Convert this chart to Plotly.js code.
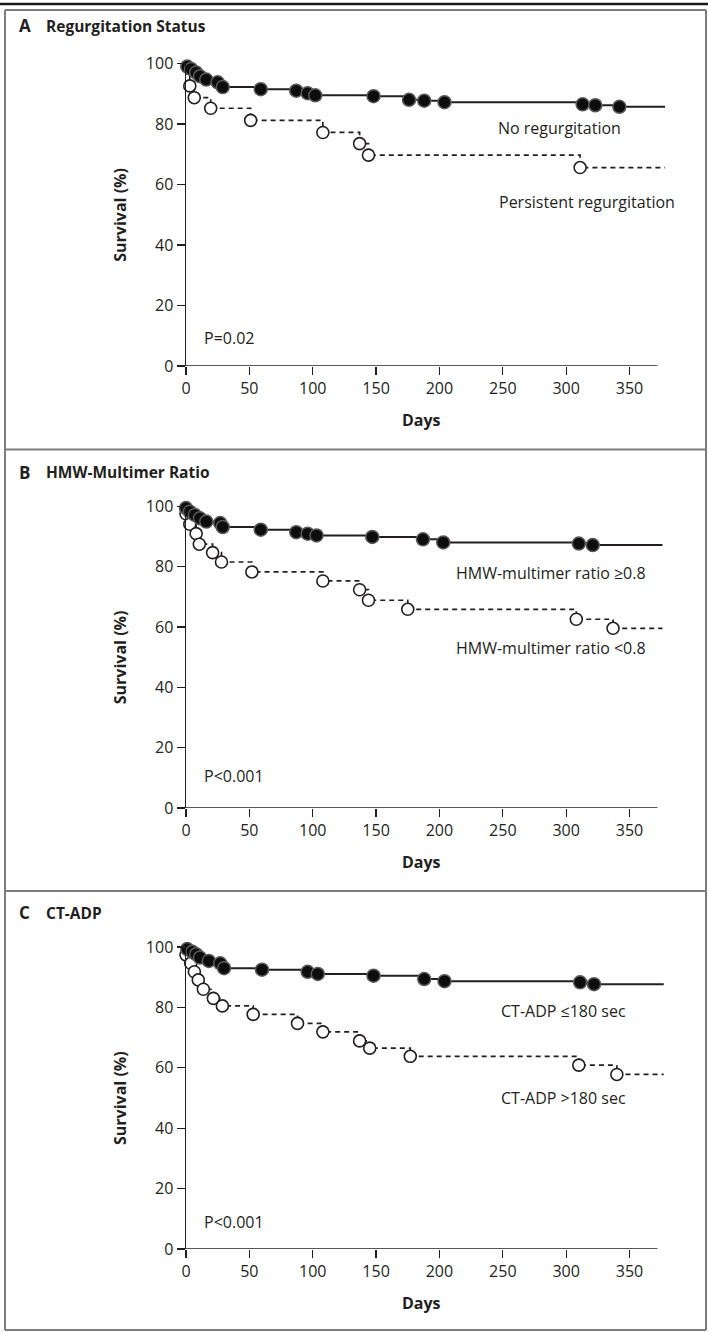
<!DOCTYPE html>
<html><head><meta charset="utf-8">
<script src="https://cdn.plot.ly/plotly-3.0.1.min.js"></script>
<style>html,body{margin:0;padding:0;background:#fff}#chart{width:708px;height:1332px}</style>
</head><body><div id="chart"></div>
<script>
// ---------- DATA (days of event, survival % after event) ----------
// Panel A: Regurgitation status
const daysA_none = [1, 4, 8, 11, 16, 25, 29, 59, 87, 96, 102, 148, 176, 188, 204, 313, 323, 342];
const survA_none = [99.0, 98.2, 97.0, 95.8, 94.7, 93.8, 92.2, 91.5, 91.0, 90.2, 89.5, 89.2, 88.0, 87.7, 87.2, 86.5, 86.2, 85.7];
const endA_none = 380;
const daysA_pers = [-1, 3, 6.5, 19.5, 51, 108, 137, 144, 311];
const survA_pers = [96.5, 92.6, 88.7, 85.2, 81.2, 77.2, 73.5, 69.7, 65.6];
const endA_pers = 380;

// Panel B: HMW-multimer ratio
const daysB_high = [0, 3, 7, 11, 16, 27, 29, 59, 87, 96, 103, 147, 187, 203, 310, 321];
const survB_high = [99.5, 98.3, 97.2, 96.1, 95.0, 94.5, 93.2, 92.3, 91.5, 91.0, 90.4, 89.9, 89.1, 88.1, 87.7, 87.2];
const endB_high = 376;
const daysB_low = [0, 3, 8, 10.5, 21, 28, 52, 108, 137, 144, 175, 308, 337];
const survB_low = [97.6, 94.1, 91.0, 87.5, 84.7, 81.6, 78.3, 75.3, 72.4, 68.9, 65.9, 62.6, 59.6];
const endB_low = 376;

// Panel C: CT-ADP
const daysC_short = [1, 5, 8, 11, 18, 27, 30, 60, 96, 104, 148, 188, 204, 311, 322];
const survC_short = [99.3, 98.4, 97.6, 96.5, 95.4, 94.6, 93.0, 92.5, 91.8, 91.1, 90.5, 89.4, 88.7, 88.3, 87.7];
const endC_short = 377;
const daysC_long = [0, 3.7, 6.6, 9.7, 13.7, 21.6, 28.7, 53, 88, 108, 137, 145, 177, 310, 340];
const survC_long = [97.4, 94.6, 91.8, 89.1, 86.0, 83.0, 80.5, 77.7, 74.7, 71.9, 68.9, 66.5, 63.8, 60.9, 57.8];
const endC_long = 377;

const xTicks = [0, 50, 100, 150, 200, 250, 300, 350];
const yTicks = [0, 20, 40, 60, 80, 100];
const panelLetters = ['A', 'B', 'C'];
const panelTitles = ['Regurgitation Status', 'HMW-Multimer Ratio', 'CT-ADP'];
const pValues = ['P=0.02', 'P<0.001', 'P<0.001'];
const labelsSolid = ['No regurgitation', 'HMW-multimer ratio \u22650.8', 'CT-ADP \u2264180 sec'];
const labelsDashed = ['Persistent regurgitation', 'HMW-multimer ratio <0.8', 'CT-ADP >180 sec'];

// ---------- LAYOUT HELPERS ----------
const W = 708, H = 1332;
const FONT = '"Open Sans", "Liberation Sans", sans-serif';
const INK = '#231f20';
const px = v => v / W;
const py = v => 1 - v / H;

const panels = [
  {solid: [daysA_none, survA_none, endA_none], dashed: [daysA_pers, survA_pers, endA_pers],
   y100: 63.5, y0: 366, title: 26, bottom: 449.5, pY: 9.2, lblS: 78.6, lblD: 54.3, lblSx: 294.6, lblDx: 316.3},
  {solid: [daysB_high, survB_high, endB_high], dashed: [daysB_low, survB_low, endB_low],
   y100: 506.5, y0: 808, title: 472, bottom: 891, pY: 10.5, lblS: 78.0, lblD: 53.0, lblSx: 287.8, lblDx: 287.8},
  {solid: [daysC_short, survC_short, endC_short], dashed: [daysC_long, survC_long, endC_long],
   y100: 947, y0: 1249, title: 913, bottom: 1330, pY: 9.0, lblS: 78.8, lblD: 49.9, lblSx: 297.8, lblDx: 297.8}
];

const traces = [];
const layout = {
  width: W, height: H, margin: {l: 0, r: 0, t: 0, b: 0},
  paper_bgcolor: '#fff', plot_bgcolor: 'rgba(0,0,0,0)',
  showlegend: false, font: {family: FONT, color: INK, size: 16},
  shapes: [], annotations: []
};

function lineXY(days, surv, end) {
  return {x: [0].concat(days, [end]), y: [100].concat(surv, [surv[surv.length - 1]])};
}

panels.forEach((p, i) => {
  const n = i === 0 ? '' : String(i + 1);
  const xa = 'x' + n, ya = 'y' + n;
  const [dD, sD, eD] = p.dashed;
  const [dS, sS, eS] = p.solid;
  const ld = lineXY(dD, sD, eD);
  traces.push({x: ld.x, y: ld.y, xaxis: xa, yaxis: ya, mode: 'lines', hoverinfo: 'skip',
    line: {shape: 'hv', color: INK, width: 1.7, dash: '5px,4px'}});
  traces.push({x: dD, y: sD, xaxis: xa, yaxis: ya, mode: 'markers', cliponaxis: false, hoverinfo: 'skip',
    marker: {symbol: 'circle', size: 12, color: '#ffffff', line: {color: INK, width: 1.6}}});
  const ls = lineXY(dS, sS, eS);
  traces.push({x: ls.x, y: ls.y, xaxis: xa, yaxis: ya, mode: 'lines', hoverinfo: 'skip',
    line: {shape: 'hv', color: INK, width: 2}});
  traces.push({x: dS, y: sS, xaxis: xa, yaxis: ya, mode: 'markers', cliponaxis: false, hoverinfo: 'skip',
    marker: {symbol: 'circle', size: 13, color: '#0d0d0d', line: {color: '#5a5a5a', width: 1.5}}});

  const axKeyX = 'xaxis' + n, axKeyY = 'yaxis' + n;
  layout[axKeyX] = {
    domain: [px(186), px(665)], range: [0, 378], anchor: ya,
    tickmode: 'array', tickvals: xTicks, ticktext: xTicks.map(String),
    ticks: 'outside', ticklen: 8, tickwidth: 1.2, tickcolor: INK,
    showline: false, zeroline: false, showgrid: false, fixedrange: true,
    tickfont: {family: FONT, size: 16, color: INK}
  };
  layout[axKeyY] = {
    domain: [py(p.y0), py(p.y100)], range: [0, 100], anchor: xa,
    tickmode: 'array', tickvals: yTicks, ticktext: yTicks.map(String),
    ticks: 'outside', ticklen: 8, tickwidth: 1.2, tickcolor: INK,
    showline: true, linecolor: INK, linewidth: 1.5,
    zeroline: false, showgrid: false, fixedrange: true,
    tickfont: {family: FONT, size: 16, color: INK}
  };
  // x-axis line (ends a bit before the curves)
  layout.shapes.push({type: 'line', xref: xa, yref: ya, x0: 0, x1: 372, y0: 0, y1: 0,
    line: {color: INK, width: 1.5}});
  // horizontal panel separators
  layout.shapes.push({type: 'line', xref: 'paper', yref: 'paper', x0: px(5), x1: px(706), y0: py(p.bottom), y1: py(p.bottom),
    line: {color: '#7d7d7d', width: 2}});

  // panel title
  layout.annotations.push({xref: 'paper', yref: 'paper', x: px(17), y: py(p.title), xanchor: 'left', yanchor: 'middle',
    text: '<b>' + panelLetters[i] + '</b>', showarrow: false, font: {family: FONT, size: 17, color: INK}});
  layout.annotations.push({xref: 'paper', yref: 'paper', x: px(44), y: py(p.title), xanchor: 'left', yanchor: 'middle',
    text: '<b>' + panelTitles[i] + '</b>', showarrow: false, font: {family: FONT, size: 15.5, color: INK}});
  // axis titles
  layout.annotations.push({xref: 'paper', yref: 'paper', x: px(120), y: py((p.y0 + p.y100) / 2), xanchor: 'center', yanchor: 'middle',
    text: '<b>Survival (%)</b>', textangle: -90, showarrow: false, font: {family: FONT, size: 16, color: INK}});
  layout.annotations.push({xref: 'paper', yref: 'paper', x: px(421.5), y: py(p.y0 + 54), xanchor: 'center', yanchor: 'middle',
    text: '<b>Days</b>', showarrow: false, font: {family: FONT, size: 16, color: INK}});
  // P value
  layout.annotations.push({xref: xa, yref: ya, x: 12.6, y: p.pY, xanchor: 'left', yanchor: 'middle',
    text: pValues[i], showarrow: false, font: {family: FONT, size: 16, color: INK}});
  // curve labels
  layout.annotations.push({xref: xa, yref: ya, x: p.lblSx, y: p.lblS, xanchor: 'center', yanchor: 'middle',
    text: labelsSolid[i], showarrow: false, font: {family: FONT, size: 16, color: INK}});
  layout.annotations.push({xref: xa, yref: ya, x: p.lblDx, y: p.lblD, xanchor: 'center', yanchor: 'middle',
    text: labelsDashed[i], showarrow: false, font: {family: FONT, size: 16, color: INK}});
});

// outer frame
layout.shapes.push({type: 'line', xref: 'paper', yref: 'paper', x0: 0, x1: 1, y0: py(4), y1: py(4), line: {color: '#1a1a1a', width: 2.5}});
layout.shapes.push({type: 'line', xref: 'paper', yref: 'paper', x0: px(5), x1: px(706), y0: py(10), y1: py(10), line: {color: '#7d7d7d', width: 2}});
layout.shapes.push({type: 'line', xref: 'paper', yref: 'paper', x0: px(5), x1: px(5), y0: py(10), y1: py(1330), line: {color: '#7d7d7d', width: 2}});
layout.shapes.push({type: 'line', xref: 'paper', yref: 'paper', x0: px(706), x1: px(706), y0: py(10), y1: py(1330), line: {color: '#7d7d7d', width: 2}});

Plotly.newPlot('chart', traces, layout, {staticPlot: true, displayModeBar: false});
</script>
</body></html>
